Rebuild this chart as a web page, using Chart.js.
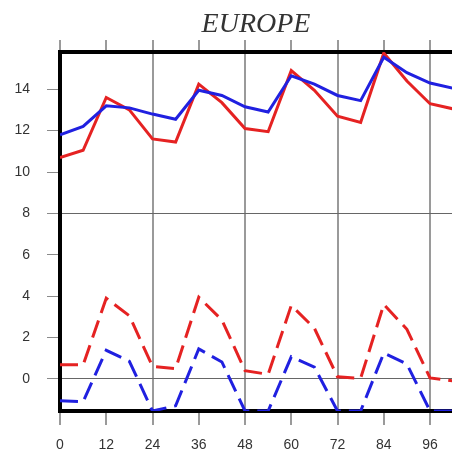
<!DOCTYPE html>
<html>
<head>
<meta charset="utf-8">
<script src="https://cdn.jsdelivr.net/npm/chart.js@4"></script>
<style>
  body { margin: 0; background: #fff; }
  #wrap { width: 452px; height: 456px; }
</style>
</head>
<body>
<div id="wrap"><canvas id="chart" width="452" height="456"></canvas></div>
<script>
// ================= DATA =================
const hours = [0, 6, 12, 18, 24, 30, 36, 42, 48, 54, 60, 66, 72, 78, 84, 90, 96, 102];
const redSolid  = [10.7, 11.05, 13.6, 13.0, 11.6, 11.45, 14.25, 13.35, 12.1, 11.95, 14.9, 13.95, 12.7, 12.4, 15.75, 14.4, 13.3, 13.05];
const blueSolid = [11.8, 12.2, 13.2, 13.1, 12.8, 12.55, 13.95, 13.7, 13.15, 12.9, 14.65, 14.25, 13.7, 13.45, 15.55, 14.8, 14.3, 14.05];
const redDash   = [0.68, 0.68, 3.9, 3.05, 0.6, 0.5, 3.95, 2.85, 0.4, 0.22, 3.55, 2.45, 0.1, 0.03, 3.6, 2.4, 0.05, -0.1];
const blueDash  = [-1.05, -1.1, 1.38, 0.85, -1.55, -1.3, 1.45, 0.82, -1.55, -1.55, 1.07, 0.57, -1.55, -1.55, 1.25, 0.72, -1.55, -1.55];

const xTicks = [0, 12, 24, 36, 48, 60, 72, 84, 96];
const yTicks = [0, 2, 4, 6, 8, 10, 12, 14];
const xMin = 0, xMax = 101.7;
const yMin = -1.55, yMax = 15.8;

const RED = "#e52222";
const BLUE = "#2020e0";

function pts(arr) {
    return hours.map((h, i) => ({ x: h, y: arr[i] }));
}

function line(arr, color, dashed) {
    return {
        data: pts(arr),
        borderColor: color,
        borderWidth: 3,
        borderDash: dashed ? [18, 8] : [],
        pointRadius: 0,
        tension: 0,
        fill: false
    };
}

// ================= CHART =================
new Chart(document.getElementById("chart"), {
    type: "line",
    data: {
        datasets: [
            line(blueDash, BLUE, true),
            line(redDash, RED, true),
            line(blueSolid, BLUE, false),
            line(redSolid, RED, false)
        ]
    },
    options: {
        responsive: false,
        animation: false,
        layout: { padding: 0 },
        plugins: {
            legend: { display: false },
            tooltip: { enabled: false },
            title: {
                display: true,
                text: "EUROPE",
                fullSize: false,
                color: "#333",
                font: { family: "Liberation Serif", style: "italic", weight: "normal", size: 28, lineHeight: 1 },
                padding: { top: 11, bottom: 1 }
            }
        },
        scales: {
            x: {
                type: "linear",
                position: "bottom",
                min: xMin,
                max: xMax,
                afterBuildTicks: s => { s.ticks = xTicks.map(v => ({ value: v })); },
                afterFit: s => { s.height = 45; },
                border: { display: true, color: "#000", width: 4 },
                grid: {
                    color: c => (c.tick && c.tick.value > 0 && c.tick.value % 24 === 0) ? "#9a9a9a" : "rgba(0,0,0,0)",
                    lineWidth: 2,
                    tickColor: "#9a9a9a",
                    tickLength: 14
                },
                ticks: {
                    color: "#333",
                    font: { family: "Liberation Sans", size: 14 },
                    padding: 12,
                    maxRotation: 0
                }
            },
            x2: {
                type: "linear",
                position: "top",
                min: xMin,
                max: xMax,
                afterBuildTicks: s => { s.ticks = xTicks.map(v => ({ value: v })); },
                afterFit: s => { s.height = 12; },
                border: { display: true, color: "#000", width: 4 },
                grid: {
                    drawOnChartArea: false,
                    color: "#9a9a9a",
                    lineWidth: 2,
                    tickColor: "#9a9a9a",
                    tickLength: 12
                },
                ticks: { display: false }
            },
            y: {
                min: yMin,
                max: yMax,
                afterBuildTicks: s => { s.ticks = yTicks.map(v => ({ value: v })); },
                afterFit: s => { s.width = 60; },
                border: { display: true, color: "#000", width: 4 },
                grid: {
                    color: c => (c.tick && (c.tick.value === 0 || c.tick.value === 8)) ? "#666" : "rgba(0,0,0,0)",
                    lineWidth: 1,
                    tickColor: "#8a8a8a",
                    tickLength: 13
                },
                ticks: {
                    color: "#333",
                    font: { family: "Liberation Sans", size: 14 },
                    padding: 17
                }
            }
        }
    }
});
</script>
</body>
</html>
